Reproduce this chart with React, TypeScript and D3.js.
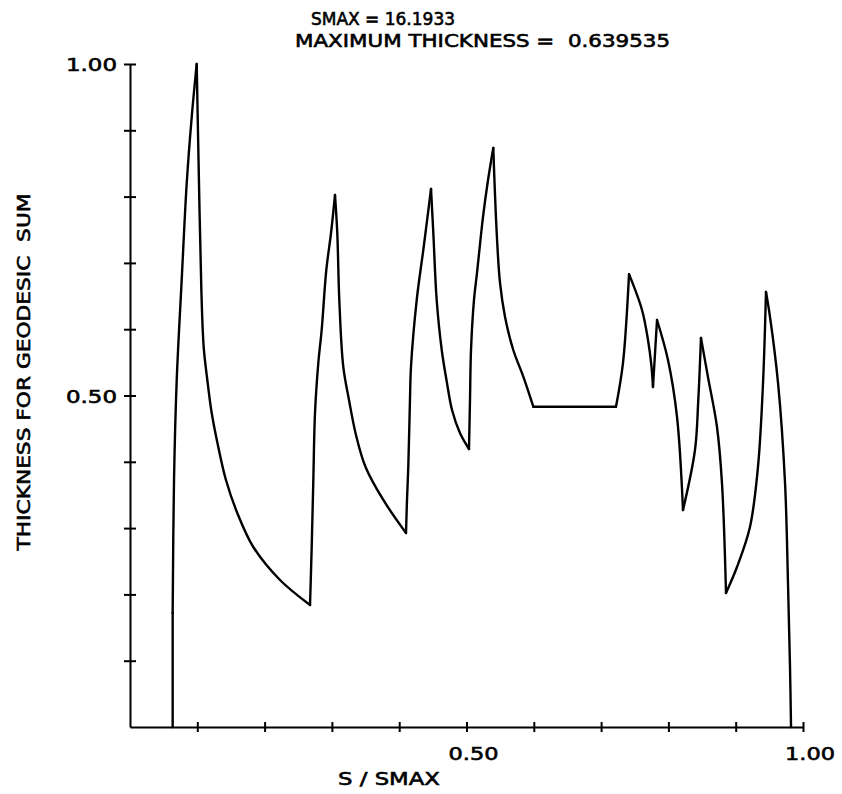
import React, { useEffect, useRef } from 'react';
import * as d3 from 'd3';

// s / smax along the geodesic
const S_OVER_SMAX = [
    0.0634, 0.0634, 0.0654, 0.0694, 0.0768, 0.0843, 0.0917, 0.0991,
    0.1025, 0.1060, 0.1095, 0.1149, 0.1214, 0.1312, 0.1426, 0.1594, 0.1832, 0.2229, 0.2675,
    0.2700, 0.2724, 0.2749, 0.2798, 0.2848, 0.2917, 0.2987, 0.3046,
    0.3080, 0.3110, 0.3169, 0.3254, 0.3358, 0.3500, 0.3764, 0.4101,
    0.4116, 0.4135, 0.4160, 0.4175, 0.4260, 0.4358, 0.4473,
    0.4507, 0.4557, 0.4632, 0.4710, 0.4785, 0.4903, 0.5037,
    0.5052, 0.5067, 0.5111, 0.5156, 0.5245, 0.5320, 0.5398,
    0.5449, 0.5498, 0.5572, 0.5695, 0.5844, 0.5993,
    0.7221, 0.7325, 0.7415,
    0.7608, 0.7697, 0.7747, 0.7771, 0.7831,
    0.7994, 0.8128, 0.8217,
    0.8395, 0.8444, 0.8484,
    0.8588, 0.8722, 0.8796, 0.8856,
    0.9019, 0.9212, 0.9331, 0.9406, 0.9450,
    0.9510, 0.9629, 0.9733, 0.9777, 0.9807, 0.9822
];

// normalised thickness
const THICKNESS = [
    0, 0.172, 0.3725, 0.523, 0.674, 0.8205, 0.920, 1.0,
    0.8205, 0.660, 0.573, 0.5234, 0.4736, 0.4223, 0.3725, 0.3228, 0.2715, 0.2217, 0.184,
    0.2720, 0.3725, 0.4736, 0.549, 0.5988, 0.6893, 0.7451, 0.8024,
    0.7451, 0.644, 0.5434, 0.4932, 0.4404, 0.3922, 0.3424, 0.2926,
    0.3424, 0.3922, 0.4932, 0.543, 0.644, 0.7195, 0.8115,
    0.7451, 0.644, 0.5686, 0.5189, 0.4781, 0.4434, 0.4193,
    0.4932, 0.5686, 0.644, 0.6848, 0.7692, 0.8250, 0.8733,
    0.7451, 0.6697, 0.6189, 0.5686, 0.5284, 0.4831,
    0.4831, 0.549, 0.683,
    0.629, 0.5837, 0.5455, 0.5128, 0.6139,
    0.5535, 0.4676, 0.3273,
    0.4178, 0.4931, 0.5867,
    0.5279, 0.4525, 0.368, 0.2021,
    0.2413, 0.3017, 0.3922, 0.5189, 0.6561,
    0.6184, 0.5189, 0.368, 0.2172, 0.0905, 0
];

// indices where the curve has a sharp corner (peaks / valleys)
const CORNERS = [1, 7, 18, 26, 34, 41, 48, 55, 61, 62, 64, 68, 69, 72, 75, 79, 84];

const X_TICKS = [0.1, 0.2, 0.3, 0.4, 0.5, 0.6, 0.7, 0.8, 0.9, 1.0];
const Y_TICKS = [0.1, 0.2, 0.3, 0.4, 0.5, 0.6, 0.7, 0.8, 0.9, 1.0];
const X_LABELS = ['0.50', '1.00'];
const Y_LABELS = ['0.50', '1.00'];

const TITLE_1 = 'SMAX = 16.1933';
const TITLE_2 = 'MAXIMUM THICKNESS =  0.639535';
const X_TITLE = 'S / SMAX';
const Y_TITLE = 'THICKNESS FOR GEODESIC  SUM';

const FONT = '"DejaVu Sans", sans-serif';

const App = () => {
    const svgRef = useRef(null);

    useEffect(() => {
        const svg = d3.select(svgRef.current);
        svg.selectAll('*').remove();

        const x = d3.scaleLinear().domain([0, 1]).range([130, 803]);
        const y = d3.scaleLinear().domain([0, 1]).range([727, 64]);

        // x axis, ticks crossing the line
        const gx = svg.append('g')
            .attr('transform', `translate(0,${y(0)})`)
            .call(d3.axisBottom(x).tickValues(X_TICKS).tickSizeOuter(0).tickFormat(() => ''));
        gx.select('.domain').attr('stroke', '#000').attr('stroke-width', 2);
        gx.selectAll('.tick line').attr('y1', -5).attr('y2', 5).attr('stroke', '#000').attr('stroke-width', 2);

        // y axis
        const gy = svg.append('g')
            .attr('transform', `translate(${x(0)},0)`)
            .call(d3.axisLeft(y).tickValues(Y_TICKS).tickSizeOuter(0).tickFormat(() => ''));
        gy.select('.domain').attr('stroke', '#000').attr('stroke-width', 2);
        gy.selectAll('.tick line').attr('x1', -6).attr('x2', 6).attr('stroke', '#000').attr('stroke-width', 2);

        const text = (str, px, py, len, anchor = 'start') =>
            svg.append('text')
                .attr('x', px)
                .attr('y', py)
                .attr('text-anchor', anchor)
                .attr('textLength', len)
                .attr('lengthAdjust', 'spacingAndGlyphs')
                .style('white-space', 'pre')
                .style('font-family', FONT)
                .style('font-size', '18px')
                .attr('fill', '#000')
                .attr('stroke', '#000')
                .attr('stroke-width', 0.6)
                .text(str);

        // tick labels
        text(X_LABELS[0], x(0.5) - 18, 760, 50);
        text(X_LABELS[1], x(1.0) - 18, 760, 50);
        text(Y_LABELS[0], x(0) - 13, y(0.5) + 7, 51, 'end');
        text(Y_LABELS[1], x(0) - 13, y(1.0) + 7, 51, 'end');

        // titles
        text(TITLE_1, 311, 25, 144);
        text(TITLE_2, 295, 47, 375);
        text(X_TITLE, 338, 785, 102);
        text(Y_TITLE, 0, 0, 357, 'middle')
            .attr('transform', `translate(30,372) rotate(-90)`);

        // curve: smooth pieces between the corners
        const pts = S_OVER_SMAX.map((s, i) => [s, THICKNESS[i]]);
        const cuts = [0, ...CORNERS, pts.length - 1];
        const line = d3.line()
            .x(d => x(d[0]))
            .y(d => y(d[1]))
            .curve(d3.curveCatmullRom.alpha(0.5));

        for (let i = 0; i < cuts.length - 1; i++) {
            svg.append('path')
                .attr('d', line(pts.slice(cuts[i], cuts[i + 1] + 1)))
                .attr('fill', 'none')
                .attr('stroke', '#000')
                .attr('stroke-width', 2.4)
                .attr('stroke-linejoin', 'round')
                .attr('stroke-linecap', 'round');
        }
    }, []);

    return (
        <svg
            ref={svgRef}
            width={842}
            height={794}
            style={{ position: 'absolute', left: 0, top: 0, background: '#fff' }}
        />
    );
};

export default App;
